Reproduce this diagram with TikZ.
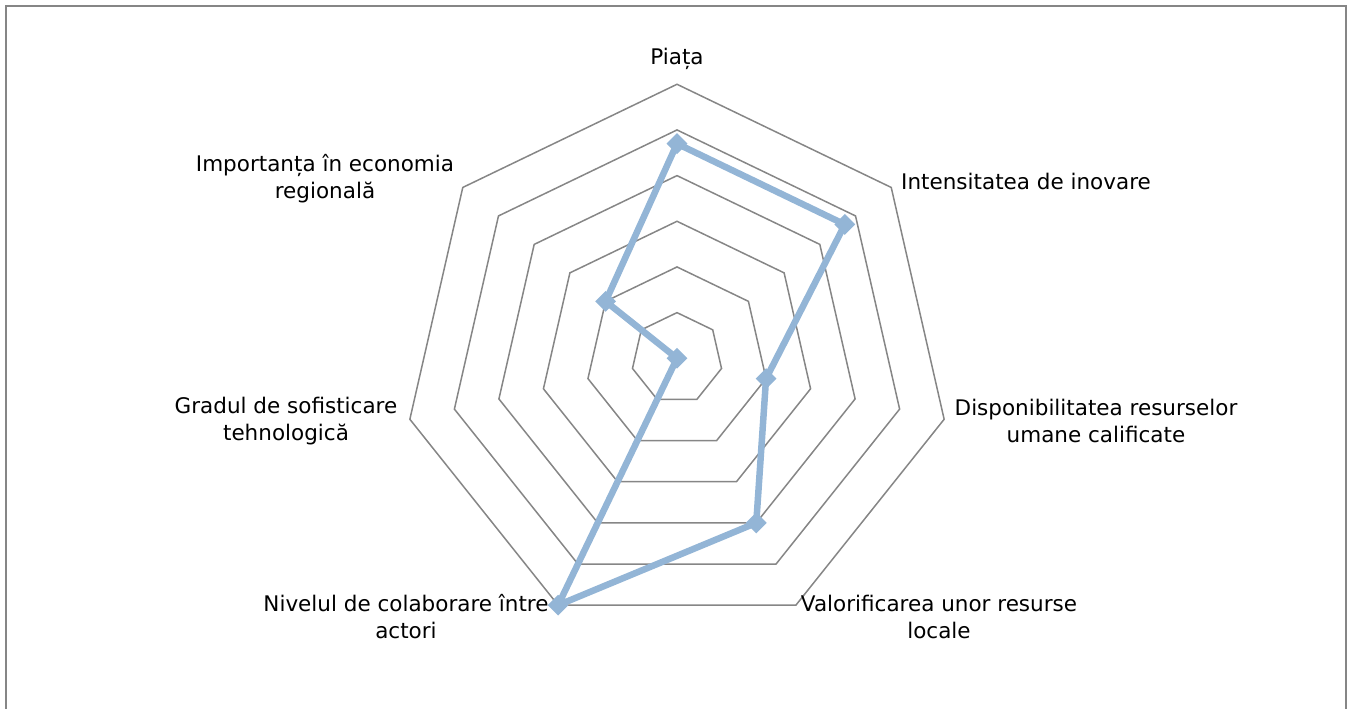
\documentclass[tikz,border=0pt]{standalone}
\usepackage{fontspec}
\setmainfont{DejaVu Sans}
\usetikzlibrary{shapes.geometric}
\definecolor{ringgray}{HTML}{868686}
\definecolor{seriesblue}{HTML}{93B5D6}
\tikzset{ring/.style={draw=ringgray, line width=1.5pt},
  series line/.style={draw=seriesblue, line width=6.5pt, line join=round},
  series mark/.style={diamond, fill=seriesblue, inner sep=0pt, minimum size=21pt},
  axis label/.style={font=\fontsize{21.5}{27}\selectfont, align=center, inner sep=0pt}
}

\begin{document}
\begin{tikzpicture}[x=1pt,y=1pt]
    \useasboundingbox (0,0) rectangle (1349,709);
    \draw[ringgray, line width=2pt] (6,-10) rectangle (1346,703);
    \begin{scope}[shift={(677,350.7)}]
        % six rings, one per level
        \foreach \lvl in {1,...,6}{
            \draw[ring] (90:\lvl*45.67) \foreach \k in {1,...,6}{ -- (90-\k*360/7:\lvl*45.67)} -- cycle;
        }
        \node[series mark] (Piata) at (90:4.7*45.67) {};
        \node[series mark] (Inovare) at (90-360/7:4.7*45.67) {};
        \node[series mark] (Resurse) at (90-2*360/7:2*45.67) {};
        \node[series mark] (Locale) at (90-3*360/7:4*45.67) {};
        \node[series mark] (Actori) at (90-4*360/7:6*45.67) {};
        \node[series mark] (Tehno) at (90-5*360/7:0) {};
        \node[series mark] (Regio) at (90-6*360/7:2*45.67) {};
        \draw[series line] (Piata.center) -- (Inovare.center) -- (Resurse.center) -- (Locale.center)
            -- (Actori.center) -- (Tehno.center) -- (Regio.center) -- cycle;
    \end{scope}
    \node[axis label] (lPiata) at (677,650) {Piața};
    \node[axis label, anchor=west] (lInovare) at (901,528) {Intensitatea de inovare};
    \node[axis label] (lResurse) at (1096,288) {Disponibilitatea resurselor\\umane calificate};
    \node[axis label] (lLocale) at (939,92) {Valorificarea unor resurse\\locale};
    \node[axis label] (lActori) at (406,92) {Nivelul de colaborare între\\actori};
    \node[axis label] (lTehno) at (286,288) {Gradul de sofisticare\\tehnologică};
    \node[axis label] (lRegio) at (325,530) {Importanța în economia\\regională};
\end{tikzpicture}
\end{document}
